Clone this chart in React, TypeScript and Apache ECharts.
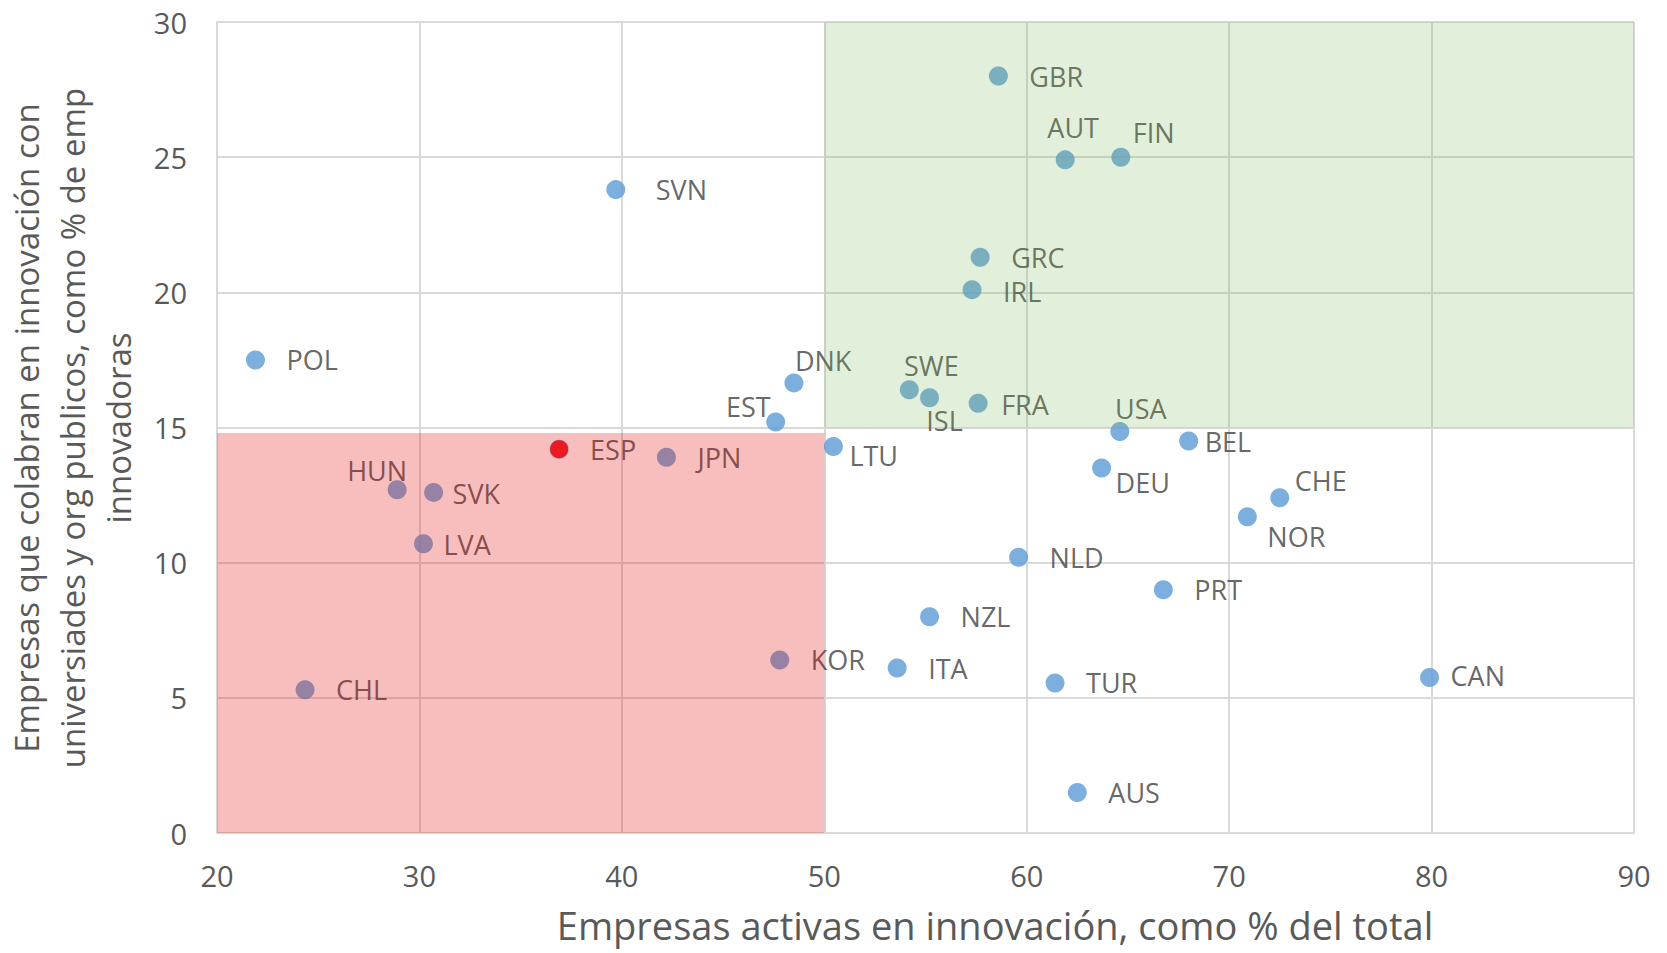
import React, { useEffect, useRef } from "react";
import * as echarts from "echarts";

const countries = ["GBR","AUT","FIN","SVN","GRC","IRL","POL","DNK","SWE","ISL","FRA","EST","USA","BEL","LTU","ESP","JPN","DEU","HUN","SVK","CHE","NOR","LVA","NLD","PRT","NZL","KOR","ITA","TUR","CAN","CHL","AUS"];
const activas = [58.6,61.9,64.65,39.7,57.7,57.3,21.9,48.5,54.2,55.2,57.6,47.6,64.6,68.0,50.45,36.9,42.2,63.7,28.9,30.7,72.5,70.9,30.2,59.6,66.75,55.2,47.8,53.6,61.4,79.9,24.35,62.5];
const colaboran = [28.0,24.9,25.0,23.8,21.3,20.1,17.5,16.65,16.4,16.1,15.9,15.2,14.85,14.5,14.3,14.2,13.9,13.5,12.7,12.6,12.4,11.7,10.7,10.2,9.0,8.0,6.4,6.1,5.55,5.75,5.3,1.5];

const highlightCountry = ["ESP"];
const xTicks = [20, 90, 10];
const yTicks = [0, 30, 5];
const lowZone = [[20, 0], [50, 14.8]];
const highZone = [[50, 15], [90, 30]];

const xTitle = "Empresas activas en innovación, como % del total";
const yTitle = "Empresas que colabran en innovación con\nuniversiades y org publicos, como % de emp\ninnovadoras";

// label layout (pixels), kept separate from data
const labelLayout: Record<string, [number, number, string]> = {
  AUT: [8, -32, "center"],
  FIN: [12, -25, "left"],
  SVN: [40, 0, "left"],
  DNK: [1, -22, "left"],
  SWE: [22, -24, "center"],
  ISL: [15, 23, "center"],
  FRA: [23, 1, "left"],
  EST: [-5, -16, "right"],
  USA: [21, -23, "center"],
  BEL: [16, 0, "left"],
  LTU: [16, 9, "left"],
  DEU: [14, 14, "left"],
  HUN: [-20, -19, "center"],
  SVK: [19, 1, "left"],
  LVA: [20, 1, "left"],
  CHE: [15, -17, "left"],
  NOR: [20, 20, "left"],
  CAN: [21, -2, "left"],
  IRL: [31, 2, "left"],
};

export default function App() {
  const ref = useRef<HTMLDivElement>(null);
  useEffect(() => {
    if (!ref.current) return;
    const chart = echarts.init(ref.current, null, { renderer: "svg" });
    const font = "Open Sans";
    const mainData = countries.map((c, i) => {
      const l = labelLayout[c] || [31, 0, "left"];
      return {
        name: c,
        value: [activas[i], colaboran[i]],
        label: { offset: [l[0], l[1]], align: l[2] },
      };
    });
    const hiData = countries
      .map((c, i) => ({ name: c, value: [activas[i], colaboran[i]] }))
      .filter((d) => highlightCountry.includes(d.name));
    chart.setOption({
      animation: false,
      backgroundColor: "#ffffff",
      grid: { left: 217, right: 33, top: 22, bottom: 120 },
      xAxis: {
        type: "value",
        min: xTicks[0],
        max: xTicks[1],
        interval: xTicks[2],
        axisLine: { show: true, onZero: false, lineStyle: { color: "#D9D9D9", width: 2 } },
        axisTick: { show: false },
        splitLine: { show: true, lineStyle: { color: "#D9D9D9", width: 2 } },
        axisLabel: { color: "#595959", fontFamily: font, fontSize: 29, margin: 28 },
      },
      yAxis: {
        type: "value",
        min: yTicks[0],
        max: yTicks[1],
        interval: yTicks[2],
        axisLine: { show: true, onZero: false, lineStyle: { color: "#D9D9D9", width: 2 } },
        axisTick: { show: false },
        splitLine: { show: true, lineStyle: { color: "#D9D9D9", width: 2 } },
        axisLabel: { color: "#595959", fontFamily: font, fontSize: 29, margin: 30 },
      },
      graphic: [
        {
          type: "text",
          x: 995,
          y: 925,
          style: {
            text: xTitle,
            fill: "#595959",
            font: `38px "${font}"`,
            align: "center",
            verticalAlign: "middle",
          },
        },
        {
          type: "text",
          x: 72,
          y: 428,
          rotation: Math.PI / 2,
          style: {
            text: yTitle,
            fill: "#595959",
            font: `33px "${font}"`,
            lineHeight: 46,
            align: "center",
            verticalAlign: "middle",
          },
        },
      ],
      series: [
        {
          type: "scatter",
          z: 2,
          symbol: "circle",
          symbolSize: 19,
          itemStyle: { color: "#5B9BD5" },
          data: mainData,
          label: {
            show: true,
            position: "inside",
            formatter: "{b}",
            color: "#404040",
            fontFamily: font,
            fontSize: 27,
            verticalAlign: "middle",
          },
          markArea: {
            z: 10,
            silent: true,
            data: [
              [
                { coord: lowZone[0], itemStyle: { color: "rgba(228,0,0,0.26)" } },
                { coord: lowZone[1] },
              ],
              [
                { coord: highZone[0], itemStyle: { color: "rgba(112,173,71,0.2)" } },
                { coord: highZone[1] },
              ],
            ],
          },
        },
        {
          type: "scatter",
          z: 20,
          symbol: "circle",
          symbolSize: 18,
          itemStyle: { color: "#FF0000" },
          data: hiData,
        },
      ],
    });
    return () => chart.dispose();
  }, []);
  return (
    <div
      ref={ref}
      style={{ position: "absolute", left: 0, top: 0, width: 1667, height: 953 }}
    />
  );
}
